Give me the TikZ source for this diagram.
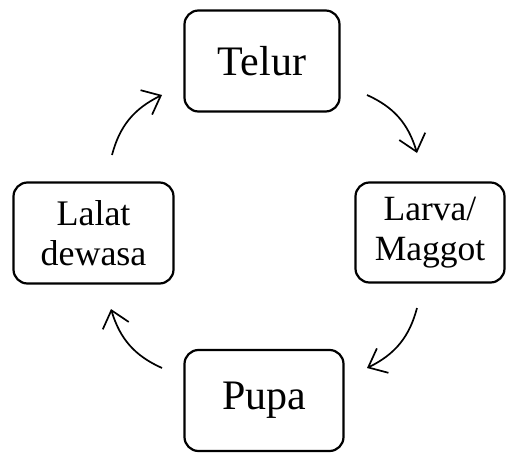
\documentclass[tikz,border=0pt]{standalone}
\usepackage{fontspec}
\setmainfont{Liberation Serif}
\usetikzlibrary{arrows.meta,bending}
\begin{document}
\begin{tikzpicture}[x=1pt,y=-1pt,
  stage/.style={draw, line width=2.2pt, rounded corners=14pt, inner sep=0pt, align=center},
  cyc/.style={line width=1.7pt, -{Straight Barb[length=16pt,width=27pt,flex]}, bend left=25}]
\useasboundingbox (0,0) rectangle (507,453);
\node[stage, minimum width=155pt, minimum height=101pt, font=\fontsize{42}{46}\selectfont] (telur) at (262,61) {Telur};
\node[stage, minimum width=160pt, minimum height=101pt, font=\fontsize{36}{40}\selectfont] (lalat) at (93.5,233) {Lalat\\dewasa};
\node[stage, minimum width=149pt, minimum height=100pt, font=\fontsize{35.5}{40}\selectfont] (larva) at (430,232.5) {Larva/\\Maggot};
\node[stage, minimum width=159pt, minimum height=101pt, font=\fontsize{42}{46}\selectfont] (pupa) at (264,400.5) {Pupa};
\coordinate (a1) at (112,155); \coordinate (b1) at (162,95);
\coordinate (a2) at (367,95);  \coordinate (b2) at (417,153);
\coordinate (a3) at (417,308); \coordinate (b3) at (367,368);
\coordinate (a4) at (162,368); \coordinate (b4) at (111,309);
\draw[cyc] (a1) to (b1);
\draw[cyc] (a2) to (b2);
\draw[cyc] (a3) to (b3);
\draw[cyc] (a4) to (b4);
\end{tikzpicture}
\end{document}
